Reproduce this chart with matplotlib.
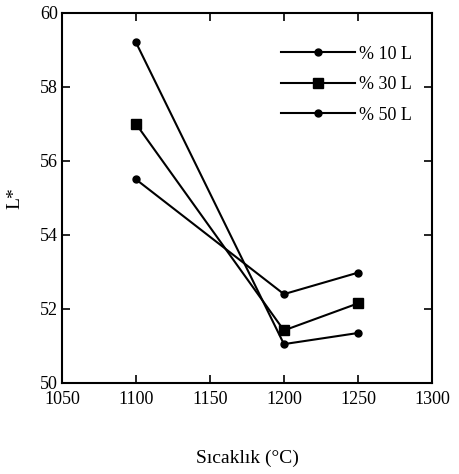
import matplotlib.pyplot as plt

plt.rcParams["font.family"] = ["Liberation Serif", "DejaVu Serif"]

temperatures = [1100, 1200, 1250]
l_10 = [59.2, 51.05, 51.35]
l_30 = [57.0, 51.42, 52.15]
l_50 = [55.5, 52.4, 52.98]

series_labels = ["% 10 L", "% 30 L", "% 50 L"]
x_ticks = [1050, 1100, 1150, 1200, 1250, 1300]
y_ticks = [50, 52, 54, 56, 58, 60]

fig = plt.figure(figsize=(4.59, 4.74), dpi=100)
ax = fig.add_axes([0.135, 0.192, 0.806, 0.781])

ax.plot(temperatures, l_10, color="black", linewidth=1.5, marker="o", markersize=5,
        label=series_labels[0])
ax.plot(temperatures, l_30, color="black", linewidth=1.5, marker="s", markersize=7,
        label=series_labels[1])
ax.plot(temperatures, l_50, color="black", linewidth=1.5, marker="o", markersize=5,
        label=series_labels[2])

ax.set_xlim(1050, 1300)
ax.set_ylim(50, 60)
ax.set_xticks(x_ticks)
ax.set_yticks(y_ticks)
ax.tick_params(direction="in", top=True, right=True, length=6, width=1.2,
               labelsize=13)
ax.tick_params(axis="x", labeltop=False, pad=6)
ax.tick_params(axis="y", pad=3)
for spine in ax.spines.values():
    spine.set_linewidth(1.5)

ax.set_xlabel("Sıcaklık (°C)", fontsize=14, labelpad=30)
ax.set_ylabel("L*", fontsize=14, labelpad=12)

ax.legend(loc="upper right", bbox_to_anchor=(0.99, 0.955), frameon=False,
          fontsize=13, handlelength=4.1, handletextpad=0.2, labelspacing=0.75)

fig.savefig("out.png", dpi=100)
